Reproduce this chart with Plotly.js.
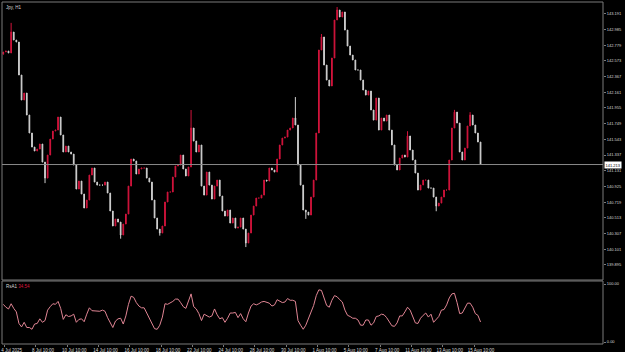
<!DOCTYPE html>
<html>
<head>
<meta charset="utf-8">
<script src="https://cdn.plot.ly/plotly-3.0.1.min.js"></script>
<style>
html,body{margin:0;padding:0;background:#000;}
#chart{width:625px;height:352px;}
</style>
</head>
<body>
<div id="chart"></div>
<script>
// ---- data (4-hour samples of the H1 chart) ----
const symbolTitle = "Jpy, H1";
const rsiLabel = "RsA1";
const startTime = "2025-07-04T08:00:00Z";
const closes = [142.689, 142.702, 142.676, 142.951, 142.846, 142.820, 142.387, 142.059, 142.151, 141.862,
 141.626, 141.442, 141.390, 141.416, 141.482, 141.245, 141.035, 141.337, 141.547, 141.652,
 141.665, 141.836, 141.600, 141.377, 141.455, 141.377, 141.350, 141.206, 140.891, 140.996,
 140.826, 140.642, 140.747, 141.075, 141.167, 140.983, 140.943, 140.943, 140.943, 140.983,
 140.839, 140.603, 140.406, 140.498, 140.458, 140.288, 140.432, 140.563, 140.930, 141.285,
 141.259, 141.088, 141.154, 141.167, 141.167, 141.035, 140.983, 140.747, 140.511, 140.366,
 140.314, 140.406, 140.721, 140.852, 140.852, 141.049, 141.193, 141.206, 141.337, 141.154,
 141.062, 141.180, 141.692, 141.521, 141.377, 141.469, 140.930, 140.812, 141.114, 140.943,
 140.760, 140.930, 141.009, 140.799, 140.603, 140.537, 140.616, 140.445, 140.511, 140.379,
 140.392, 140.511, 140.366, 140.183, 140.314, 140.550, 140.668, 140.773, 140.773, 140.812,
 141.009, 140.996, 141.167, 141.141, 141.114, 141.285, 141.469, 141.560, 141.573, 141.665,
 141.692, 141.823, 141.731, 141.206, 140.943, 140.616, 140.589, 140.550, 140.786, 141.009,
 141.626, 142.715, 142.886, 142.518, 142.321, 142.243, 142.610, 143.109, 143.240, 143.148,
 143.214, 142.977, 142.767, 142.649, 142.584, 142.453, 142.453, 142.321, 142.190, 142.124,
 142.177, 141.928, 141.796, 142.085, 141.665, 141.823, 141.783, 141.862, 141.665, 141.469,
 141.206, 141.141, 141.298, 141.337, 141.311, 141.587, 141.403, 141.272, 141.101, 140.878,
 140.944, 141.009, 141.009, 140.904, 140.904, 140.786, 140.668, 140.707, 140.786, 140.878,
 140.878, 141.272, 141.692, 141.901, 141.757, 141.377, 141.272, 141.429, 141.718, 141.862,
 141.731, 141.626, 141.508, 141.213];
const firstOpen = 142.660;
// notable wick extremes seen in the picture: bar index -> high / low
const spikeHighIdx = [3, 72, 112, 122, 128, 155, 173, 179];
const spikeHighVal = [143.071, 141.928, 142.098, 142.925, 143.279, 141.650, 141.930, 141.900];
const spikeLowIdx = [16, 45, 60, 93, 116, 166];
const spikeLowVal = [140.969, 140.240, 140.280, 140.130, 140.500, 140.600];
const rsi = [65, 60, 57, 66, 58, 52, 32, 26, 34, 25,
 25, 22, 31, 32, 40, 34, 37, 55, 61, 66,
 65, 70, 58, 39, 47, 44, 45, 48, 34, 39,
 40, 35, 48, 59, 54, 54, 54, 53, 55, 53,
 42, 32, 25, 36, 40, 41, 31, 45, 65, 79,
 77, 68, 62, 59, 59, 50, 41, 33, 23, 22,
 29, 43, 66, 65, 67, 70, 74, 74, 68, 61,
 58, 69, 83, 61, 57, 49, 37, 48, 45, 43,
 45, 57, 47, 40, 42, 34, 41, 50, 50, 51,
 42, 49, 40, 35, 50, 62, 66, 64, 66, 69,
 70, 68, 67, 62, 64, 73, 71, 68, 69, 75,
 72, 72, 70, 37, 29, 22, 29, 40, 50, 63,
 80, 90, 89, 75, 63, 60, 72, 80, 78, 73,
 69, 55, 46, 44, 41, 41, 38, 29, 29, 38,
 38, 29, 33, 44, 45, 48, 47, 42, 34, 28,
 27, 33, 45, 45, 52, 60, 55, 42, 33, 32,
 41, 46, 50, 43, 48, 34, 39, 44, 55, 56,
 64, 76, 83, 84, 68, 49, 50, 60, 67, 67,
 60, 49, 46, 34.54];
const priceTicks = [139.895, 140.101, 140.307, 140.513, 140.719, 140.925, 141.131, 141.337,
 141.543, 141.749, 141.955, 142.161, 142.367, 142.573, 142.779, 142.985, 143.191];
const rsiTicks = [0, 100];
const timeTickVals = ["2025-07-04 10:00", "2025-07-08 10:00", "2025-07-10 10:00", "2025-07-14 10:00",
 "2025-07-16 10:00", "2025-07-18 10:00", "2025-07-22 10:00", "2025-07-24 10:00", "2025-07-28 10:00",
 "2025-07-30 10:00", "2025-08-01 10:00", "2025-08-05 10:00", "2025-08-07 10:00", "2025-08-11 10:00",
 "2025-08-13 10:00", "2025-08-15 10:00"];
const timeTickText = ["4 Jul 2025", "8 Jul 10:00", "10 Jul 10:00", "14 Jul 10:00", "16 Jul 10:00",
 "18 Jul 10:00", "22 Jul 10:00", "24 Jul 10:00", "28 Jul 10:00", "30 Jul 10:00", "1 Aug 10:00",
 "5 Aug 10:00", "7 Aug 10:00", "11 Aug 10:00", "13 Aug 10:00", "15 Aug 10:00"];

// ---- build table for the library ----
function pad(n){return String(n).padStart(2,'0');}
function fmt(d){return d.getUTCFullYear()+'-'+pad(d.getUTCMonth()+1)+'-'+pad(d.getUTCDate())+' '+pad(d.getUTCHours())+':00';}
const times = [];
let t = new Date(startTime);
while (times.length < closes.length) {
  const wd = t.getUTCDay();
  if (wd !== 0 && wd !== 6) times.push(fmt(t));
  t = new Date(t.getTime() + 4*3600*1000);
}
const opens = closes.map((c,i)=> i===0 ? firstOpen : closes[i-1]);
const highs = closes.map((c,i)=> Math.max(c, opens[i]));
const lows = closes.map((c,i)=> Math.min(c, opens[i]));
spikeHighIdx.forEach((k,j)=>{ highs[k] = Math.max(highs[k], spikeHighVal[j]); });
spikeLowIdx.forEach((k,j)=>{ lows[k] = Math.min(lows[k], spikeLowVal[j]); });
const lastClose = closes[closes.length-1];
const lastRsi = rsi[rsi.length-1];

const UP = '#d3143c', DOWN = '#d0d0d0', FRAME = '#7a7a7a', TXT = '#d8d8d8';
const FONT = 'Liberation Sans, Arial, sans-serif';

const traces = [
  {type:'candlestick', x:times, open:opens, high:highs, low:lows, close:closes,
   xaxis:'x', yaxis:'y',
   increasing:{line:{color:UP,width:1}, fillcolor:UP},
   decreasing:{line:{color:DOWN,width:1}, fillcolor:DOWN},
   whiskerwidth:0, hoverinfo:'skip', showlegend:false},
  {type:'scatter', mode:'lines', x:times, y:rsi, xaxis:'x', yaxis:'y2',
   line:{color:'#e08594', width:1}, hoverinfo:'skip', showlegend:false}
];

const mainBottom = (344-280)/342;
const rsiTop = (344-281)/342;

const layout = {
  width:625, height:352,
  paper_bgcolor:'#000', plot_bgcolor:'#000',
  margin:{l:2, r:22, t:2, b:8, pad:0},
  font:{family:FONT, color:TXT, size:4},
  showlegend:false,
  boxgap:0.6,
  xaxis:{type:'date', anchor:'y2',
    range:['2025-07-04 06:00','2025-08-27 15:50'],
    rangebreaks:[{bounds:['sat','mon']}],
    rangeslider:{visible:false},
    showgrid:false, zeroline:false, showline:false,
    tickmode:'array', tickvals:timeTickVals, ticktext:timeTickText,
    ticks:'outside', ticklen:2, tickcolor:FRAME, tickwidth:1,
    tickfont:{family:FONT, size:4.5, color:TXT},
    ticklabelshift:7, ticklabelstandoff:0, ticklabeloverflow:'allow'},
  yaxis:{domain:[mainBottom,1], side:'right', range:[139.698,143.345],
    showgrid:false, zeroline:false, showline:false,
    tickmode:'array', tickvals:priceTicks, ticktext:priceTicks.map(v=>v.toFixed(3)),
    ticks:'outside', ticklen:2, tickcolor:FRAME,
    tickfont:{family:FONT, size:4, color:TXT}, ticklabelstandoff:0},
  yaxis2:{domain:[0,rsiTop], side:'right', range:[-3.4,105.2],
    showgrid:false, zeroline:false, showline:false,
    tickmode:'array', tickvals:rsiTicks, ticktext:rsiTicks.map(v=>v.toFixed(2)),
    ticks:'outside', ticklen:2, tickcolor:FRAME,
    tickfont:{family:FONT, size:4, color:TXT}, ticklabelstandoff:0},
  shapes:[
    {type:'rect', xref:'paper', yref:'paper', x0:0, x1:1, y0:mainBottom, y1:1, line:{color:FRAME,width:1}},
    {type:'rect', xref:'paper', yref:'paper', x0:0, x1:1, y0:0, y1:rsiTop, line:{color:FRAME,width:1}},
    {type:'line', xref:'paper', yref:'y', x0:0, x1:1, y0:lastClose, y1:lastClose, line:{color:'#8a8a8a',width:1}}
  ],
  annotations:[
    {xref:'paper', yref:'paper', x:0.004, y:0.997, xanchor:'left', yanchor:'top', showarrow:false,
     text:symbolTitle, font:{family:FONT, size:4.5, color:TXT}},
    {xref:'paper', yref:'paper', x:0.004, y:rsiTop-0.004, xanchor:'left', yanchor:'top', showarrow:false,
     text:rsiLabel+' <span style="color:#dc143c">'+lastRsi.toFixed(2)+'</span>', font:{family:FONT, size:4.5, color:TXT}},
    {xref:'paper', yref:'y', x:1, y:lastClose, xanchor:'left', yanchor:'middle', showarrow:false,
     xshift:1, text:lastClose.toFixed(3), bgcolor:'#ffffff', borderpad:0.5,
     font:{family:FONT, size:4, color:'#000'}}
  ]
};

Plotly.newPlot('chart', traces, layout, {displayModeBar:false, staticPlot:true});
</script>
</body>
</html>
